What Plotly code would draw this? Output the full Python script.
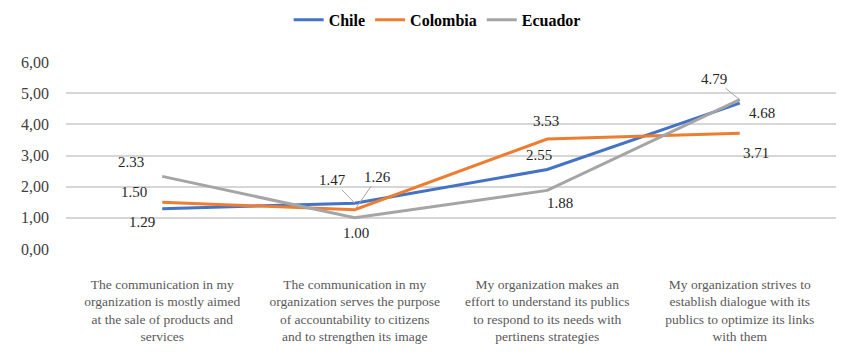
import plotly.graph_objects as go

categories = [
    "The communication in my<br>organization is mostly aimed<br>at the sale of products and<br>services",
    "The communication in my<br>organization serves the purpose<br>of accountability to citizens<br>and to strengthen its image",
    "My organization makes an<br>effort to understand its publics<br>to respond to its needs with<br>pertinens strategies",
    "My organization strives to<br>establish dialogue with its<br>publics to optimize its links<br>with them",
]
chile = [1.29, 1.47, 2.55, 4.68]
colombia = [1.50, 1.26, 3.53, 3.71]
ecuador = [2.33, 1.00, 1.88, 4.79]
y_ticks = [0, 1, 2, 3, 4, 5, 6]
y_tick_labels = ["0,00", "1,00", "2,00", "3,00", "4,00", "5,00", "6,00"]

series = [
    ("Chile", chile, "#4472C4"),
    ("Colombia", colombia, "#ED7D31"),
    ("Ecuador", ecuador, "#A5A5A5"),
]

# label placement (pixel offsets): (xshift, yshift, leader)
label_pos = {
    "Chile": [(-20, -13, False), (-22, -23, True), (-8, 15, False), (22, -10, False)],
    "Colombia": [(-28, 10, False), (23, -33, True), (-1, 18, False), (16, -20, False)],
    "Ecuador": [(-31, 14, False), (1, -15, False), (13, -13, False), (-26, -21, True)],
}

SERIF = "Liberation Serif, DejaVu Serif, Noto Serif, Times New Roman, Times, serif"
fig = go.Figure()
for name, vals, color in series:
    fig.add_trace(go.Scatter(
        x=categories, y=vals, name=name, mode="lines",
        line=dict(color=color, width=3),
    ))

for name, vals, color in series:
    for cat, v, (dx, dy, leader) in zip(categories, vals, label_pos[name]):
        if leader:
            fig.add_annotation(
                x=cat, y=v, text=f"{v:.2f}", showarrow=True, arrowhead=0,
                arrowwidth=1, arrowcolor="#A6A6A6", ax=dx, ay=dy,
                font=dict(family=SERIF, size=15, color="#262626"),
            )
        else:
            fig.add_annotation(
                x=cat, y=v, text=f"{v:.2f}", showarrow=False,
                xshift=dx, yshift=dy,
                font=dict(family=SERIF, size=15, color="#262626"),
            )

fig.update_layout(
    width=853, height=357,
    margin=dict(l=58, r=25, t=54, b=116, autoexpand=False),
    plot_bgcolor="white", paper_bgcolor="white",
    font=dict(family=SERIF),
    showlegend=True,
    legend=dict(
        orientation="h", x=0.482, xanchor="center", y=1.225, yref="paper",
        yanchor="middle",
        font=dict(family=SERIF, size=16, color="#000000", weight="bold"),
    ),
    xaxis=dict(
        range=[-0.5, 3.5],
        showgrid=False, showline=False, zeroline=False,
        tickfont=dict(family=SERIF, size=13.5, color="#595959"),
        ticks="", ticklabelstandoff=25, automargin=False,
    ),
    yaxis=dict(
        range=[0, 6], tickvals=y_ticks, ticktext=y_tick_labels,
        showgrid=True, gridcolor="#D6D6D6", gridwidth=1.5,
        zeroline=False, showline=False,
        tickfont=dict(family=SERIF, size=16, color="#404040"),
        ticklabelstandoff=16, automargin=False,
    ),
)

fig.write_html("out.html")
